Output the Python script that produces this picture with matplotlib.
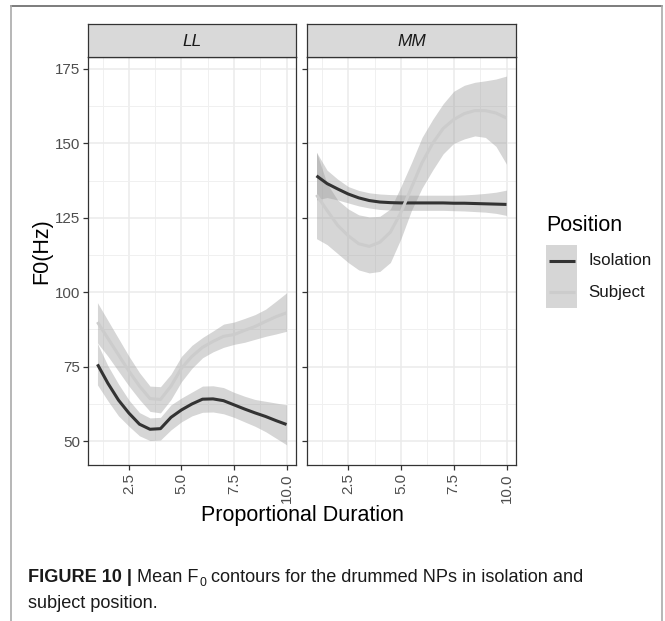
import matplotlib
matplotlib.use('Agg')
import matplotlib.pyplot as plt
from matplotlib.patches import Rectangle
from matplotlib.lines import Line2D

plt.rcParams['font.family'] = ['Liberation Sans', 'DejaVu Sans']

# ---------------- data ----------------
duration = [1.0, 1.5, 2.0, 2.5, 3.0, 3.5, 4.0, 4.5, 5.0, 5.5,
            6.0, 6.5, 7.0, 7.5, 8.0, 8.5, 9.0, 9.5, 10.0]

ll_iso_mean = [75.8, 69.4, 63.8, 59.4, 55.7, 54.0, 54.2, 58.0, 60.5, 62.5,
               64.1, 64.2, 63.6, 62.2, 60.8, 59.5, 58.3, 56.9, 55.6]
ll_iso_lo = [68.9, 63.5, 58.5, 55.0, 51.8, 50.2, 50.4, 53.8, 56.5, 58.5,
             59.7, 59.8, 59.2, 58.0, 56.5, 55.0, 53.2, 51.0, 48.8]
ll_iso_hi = [82.8, 75.3, 69.2, 63.8, 59.6, 57.8, 58.0, 62.2, 64.5, 66.5,
             68.5, 68.6, 68.0, 66.4, 65.1, 64.0, 63.4, 62.8, 62.2]

ll_subj_mean = [90.0, 84.5, 79.0, 73.5, 68.5, 64.3, 64.0, 68.5, 74.5, 78.5,
                81.5, 83.5, 85.2, 85.8, 87.2, 88.5, 90.2, 91.8, 93.1]
ll_subj_lo = [83.0, 78.5, 73.5, 68.5, 64.0, 60.0, 59.5, 64.0, 70.0, 74.5,
              78.0, 80.0, 81.5, 82.5, 83.2, 84.2, 85.2, 86.0, 86.9]
ll_subj_hi = [96.5, 90.5, 84.5, 78.5, 73.0, 68.5, 68.3, 72.5, 78.5, 82.2,
              84.8, 87.0, 89.3, 90.0, 91.2, 92.5, 94.3, 97.0, 99.8]

mm_iso_mean = [139.1, 136.5, 134.7, 133.0, 131.7, 130.8, 130.3, 130.1, 130.0, 130.0,
               130.0, 130.0, 130.0, 129.9, 129.9, 129.8, 129.7, 129.6, 129.5]
mm_iso_lo = [131.0, 131.8, 131.0, 130.0, 129.0, 128.3, 127.8, 127.6, 127.5, 127.5,
             127.5, 127.5, 127.5, 127.4, 127.3, 127.1, 126.9, 126.5, 125.8]
mm_iso_hi = [147.0, 141.0, 138.0, 135.5, 134.2, 133.4, 133.0, 132.8, 132.7, 132.6,
             132.6, 132.6, 132.6, 132.6, 132.7, 132.9, 133.2, 133.6, 134.3]

mm_subj_mean = [132.7, 127.5, 122.5, 119.0, 116.3, 115.4, 116.8, 120.2, 126.8, 135.2,
                143.5, 150.0, 155.0, 158.0, 160.0, 161.0, 161.0, 160.2, 158.5]
mm_subj_lo = [118.0, 116.0, 113.0, 110.0, 107.5, 106.5, 107.0, 110.0, 118.0, 127.5,
              135.0, 141.0, 146.5, 150.0, 151.5, 152.5, 152.0, 149.0, 143.0]
mm_subj_hi = [147.0, 136.5, 131.0, 128.0, 126.0, 125.3, 125.5, 128.0, 135.5, 143.5,
              152.0, 158.0, 163.3, 167.5, 169.5, 170.5, 171.0, 171.6, 172.6]

facets = ['LL', 'MM']
positions = ['Isolation', 'Subject']
x_ticks = [2.5, 5.0, 7.5, 10.0]
x_tick_labels = ['2.5', '5.0', '7.5', '10.0']
y_ticks = [50, 75, 100, 125, 150, 175]
y_tick_labels = ['50', '75', '100', '125', '150', '175']

series = {
    'LL': {'Isolation': (ll_iso_mean, ll_iso_lo, ll_iso_hi),
           'Subject': (ll_subj_mean, ll_subj_lo, ll_subj_hi)},
    'MM': {'Isolation': (mm_iso_mean, mm_iso_lo, mm_iso_hi),
           'Subject': (mm_subj_mean, mm_subj_lo, mm_subj_hi)},
}

line_colors = {'Isolation': '#333333', 'Subject': '#CCCCCC'}
ribbon_color = '#999999'
ribbon_alpha = 0.4

# ---------------- layout ----------------
W, H = 665, 621
fig = plt.figure(figsize=(W / 100, H / 100), dpi=100)


def fx(px):
    return px / W


def fy(py):
    return 1 - py / H


panel_cols = {'LL': (88, 296), 'MM': (307, 516)}
p_top, p_bot = 57, 465
s_top = 24

minor_x = [1.25, 3.75, 6.25, 8.75]
minor_y = [62.5, 87.5, 112.5, 137.5, 162.5]

for fi, facet in enumerate(facets):
    l, r = panel_cols[facet]
    ax = fig.add_axes([fx(l), fy(p_bot), (r - l) / W, (p_bot - p_top) / H])
    ax.set_xlim(0.55, 10.45)
    ax.set_ylim(42, 179)
    ax.set_axisbelow(True)
    ax.set_xticks(x_ticks)
    ax.set_xticklabels(x_tick_labels, rotation=90)
    ax.set_yticks(y_ticks)
    if fi == 0:
        ax.set_yticklabels(y_tick_labels)
    else:
        ax.set_yticklabels([])
        ax.tick_params(axis='y', length=0)
    ax.set_xticks(minor_x, minor=True)
    ax.set_yticks(minor_y, minor=True)
    ax.grid(which='major', color='#EBEBEB', lw=1.1)
    ax.grid(which='minor', color='#F0F0F0', lw=0.7)
    ax.tick_params(which='minor', length=0)
    ax.tick_params(which='major', length=3.8, width=0.9, color='#333333',
                   labelcolor='#4D4D4D', labelsize=10.9, pad=2)
    for sp in ax.spines.values():
        sp.set_color('#333333')
        sp.set_linewidth(0.9)

    for pos in positions:
        mean, lo, hi = series[facet][pos]
        ax.fill_between(duration, lo, hi, color=ribbon_color, alpha=ribbon_alpha,
                        lw=0)
        ax.plot(duration, mean, color=line_colors[pos], lw=2.2,
                solid_capstyle='butt')

    # strip
    sax = fig.add_axes([fx(l), fy(p_top), (r - l) / W, (p_top - s_top) / H])
    sax.set_facecolor('#D9D9D9')
    sax.set_xticks([])
    sax.set_yticks([])
    for sp in sax.spines.values():
        sp.set_color('#333333')
        sp.set_linewidth(0.9)
    sax.text(0.5, 0.48, facet, style='italic', fontsize=12.4, color='#1A1A1A',
             ha='center', va='center', transform=sax.transAxes)

# axis titles
fig.text(fx(42), fy(251), 'F0(Hz)', rotation=90, fontsize=15.5,
         ha='center', va='center', color='black')
fig.text(fx(302), fy(516), 'Proportional Duration', fontsize=15.5,
         ha='center', va='center', color='black')

# legend
fig.text(fx(546), fy(225), 'Position', fontsize=15.5, ha='left', va='center')
key_l, key_r = 546, 577
key_rows = [(245, 276.5), (276.5, 308)]
for pos, (kt, kb) in zip(positions, key_rows):
    fig.add_artist(Rectangle((fx(key_l), fy(kb)), (key_r - key_l) / W, (kb - kt) / H,
                             transform=fig.transFigure, facecolor=ribbon_color,
                             alpha=ribbon_alpha, lw=0))
    yc = (kt + kb) / 2
    fig.add_artist(Line2D([fx(548.5), fx(574.5)], [fy(yc), fy(yc)],
                          transform=fig.transFigure, color=line_colors[pos],
                          lw=2.2, solid_capstyle='butt'))
    fig.text(fx(588), fy(yc), pos, fontsize=12.2, ha='left', va='center',
             color='#1A1A1A')

# outer frame
fig.add_artist(Line2D([fx(11), fx(662)], [fy(6), fy(6)], transform=fig.transFigure,
                      color='#666666', lw=1.2))
fig.add_artist(Line2D([fx(11), fx(11)], [fy(6), 0], transform=fig.transFigure,
                      color='#AAAAAA', lw=1.2))
fig.add_artist(Line2D([fx(662), fx(662)], [fy(6), 0], transform=fig.transFigure,
                      color='#AAAAAA', lw=1.2))

# caption
cap_size = 13.1
t1 = fig.text(fx(28.5), fy(582), 'FIGURE 10 |', fontsize=cap_size,
              fontweight='bold', ha='left', va='baseline', color='#1A1A1A')
t2 = fig.text(0, 0, ' Mean F', fontsize=cap_size, ha='left', va='baseline',
              color='#1A1A1A')
t3 = fig.text(0, 0, '0', fontsize=cap_size * 0.68, ha='left', va='baseline',
              color='#1A1A1A')
t4 = fig.text(0, 0, ' contours for the drummed NPs in isolation and',
              fontsize=cap_size, ha='left', va='baseline', color='#1A1A1A')
fig.text(fx(28.5), fy(608), 'subject position.', fontsize=cap_size,
         ha='left', va='baseline', color='#1A1A1A')

renderer = fig.canvas.get_renderer()
bb1 = t1.get_window_extent(renderer)
base_px = fy(582) * H
t2.set_position(((bb1.x1) / W, fy(582)))
bb2 = t2.get_window_extent(renderer)
t3.set_position(((bb2.x1 + 0.5) / W, (base_px - 3.5) / H))
bb3 = t3.get_window_extent(renderer)
t4.set_position(((bb3.x1) / W, fy(582)))

fig.savefig('out.png', dpi=100)
